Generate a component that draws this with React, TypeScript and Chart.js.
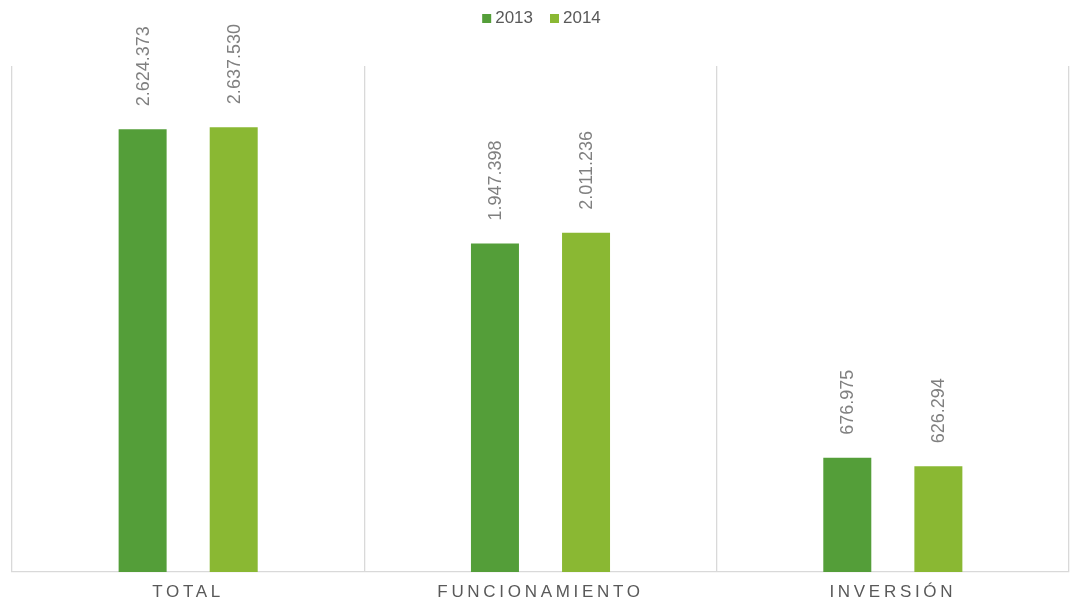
import React, { useEffect, useRef } from "react";
import { Chart, registerables } from "chart.js";

Chart.register(...registerables);

const categories = ["TOTAL", "FUNCIONAMIENTO", "INVERSIÓN"];
const seriesLabels = ["2013", "2014"];
const values2013 = [2624373, 1947398, 676975];
const values2014 = [2637530, 2011236, 626294];
const seriesColors = ["#549E39", "#8AB833"];
const yMax = 3000000;

const FONT = '"Liberation Sans", Arial, sans-serif';

function fmt(v: number): string {
  return String(v).replace(/\B(?=(\d{3})+(?!\d))/g, ".");
}

const overlayPlugin = {
  id: "overlay",
  afterDatasetsDraw(chart: any) {
    const ctx: CanvasRenderingContext2D = chart.ctx;
    const area = chart.chartArea;
    ctx.save();

    // data labels (rotated)
    ctx.font = `18px ${FONT}`;
    ctx.fillStyle = "#808080";
    ctx.textAlign = "left";
    ctx.textBaseline = "middle";
    chart.data.datasets.forEach((ds: any, i: number) => {
      const meta = chart.getDatasetMeta(i);
      meta.data.forEach((bar: any, j: number) => {
        ctx.save();
        ctx.translate(bar.x + 1, bar.y - 23);
        ctx.rotate(-Math.PI / 2);
        ctx.fillText(fmt(ds.data[j]), 0, 0);
        ctx.restore();
      });
    });

    // category labels with letter spacing
    const xs = chart.scales.x;
    ctx.font = `17px ${FONT}`;
    ctx.fillStyle = "#595959";
    ctx.textAlign = "center";
    ctx.textBaseline = "alphabetic";
    (ctx as any).letterSpacing = "3.7px";
    categories.forEach((c, i) => {
      const x = xs.getPixelForValue(i);
      ctx.fillText(c, x, area.bottom + 25);
    });
    (ctx as any).letterSpacing = "0px";

    // legend
    ctx.font = `17px ${FONT}`;
    ctx.textAlign = "left";
    ctx.textBaseline = "middle";
    const box = 9;
    const gapBoxText = 4;
    const gapItems = 17;
    const widths = seriesLabels.map((l) => ctx.measureText(l).width);
    const total = widths.reduce((a, w) => a + box + gapBoxText + w, 0) + gapItems * (seriesLabels.length - 1);
    let x = (area.left + area.right) / 2 + 1 - total / 2;
    const cy = 18.5;
    seriesLabels.forEach((l, i) => {
      ctx.fillStyle = seriesColors[i];
      ctx.fillRect(x, cy - box / 2, box, box);
      ctx.fillStyle = "#595959";
      ctx.fillText(l, x + box + gapBoxText, cy);
      x += box + gapBoxText + widths[i] + gapItems;
    });

    ctx.restore();
  },
};

export default function App() {
  const canvasRef = useRef<HTMLCanvasElement | null>(null);

  useEffect(() => {
    document.body.style.margin = "0";
    const canvas = canvasRef.current;
    if (!canvas) return;
    const chart = new Chart(canvas, {
      type: "bar",
      data: {
        labels: categories,
        datasets: [
          {
            label: seriesLabels[0],
            data: values2013,
            backgroundColor: seriesColors[0],
            borderWidth: 0,
            barPercentage: 0.527,
            categoryPercentage: 0.517,
          },
          {
            label: seriesLabels[1],
            data: values2014,
            backgroundColor: seriesColors[1],
            borderWidth: 0,
            barPercentage: 0.527,
            categoryPercentage: 0.517,
          },
        ],
      },
      options: {
        responsive: false,
        animation: false,
        devicePixelRatio: 1,
        layout: { padding: { left: 12, right: 3, top: 66, bottom: 33 } },
        plugins: {
          legend: { display: false },
          tooltip: { enabled: false },
        },
        scales: {
          x: {
            display: true,
            grid: { display: true, offset: true, color: "#d9d9d9", lineWidth: 1.3, drawTicks: false },
            border: { display: true, color: "#d9d9d9", width: 1.3 },
            ticks: { display: false },
          },
          y: {
            display: false,
            min: 0,
            max: yMax,
          },
        },
      },
      plugins: [overlayPlugin],
    });
    return () => chart.destroy();
  }, []);

  return (
    <div style={{ width: 1072, height: 605 }}>
      <canvas ref={canvasRef} width={1072} height={605} style={{ display: "block" }} />
    </div>
  );
}
